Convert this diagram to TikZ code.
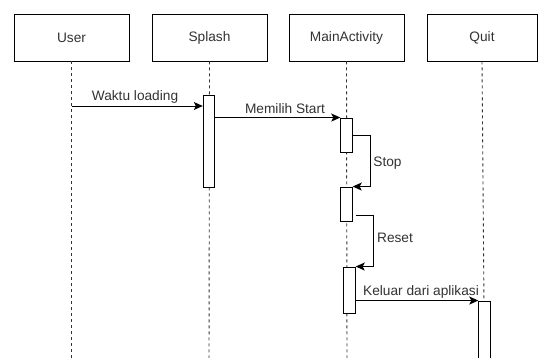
\documentclass[tikz,border=0pt]{standalone}
\usepackage{fontspec}
\setmainfont{Liberation Sans}
\usetikzlibrary{arrows.meta}
\definecolor{txt}{HTML}{333333}
\tikzset{
  head/.style={draw=black, line width=0.9pt, fill=white, minimum width=115pt, minimum height=47pt, inner sep=0pt, text=txt, font=\fontsize{13.7}{16}\selectfont},
  act/.style={draw=black, line width=0.9pt, fill=white, minimum width=11.5pt, inner sep=0pt},
  lifeline/.style={draw=black!80, line width=0.9pt, dash pattern=on 3pt off 3pt},
  msg/.style={draw=black, line width=0.9pt, -{Stealth[length=9pt,width=8pt,inset=2pt]}},
  lbl/.style={text=txt, inner sep=0pt, font=\fontsize{13.7}{16}\selectfont},
}
\begin{document}
\begin{tikzpicture}[x=1pt,y=-1pt]
\useasboundingbox (0,0) rectangle (541,358);
\clip (0,0) rectangle (541,358);
\fill[white] (0,0) rectangle (541,358);
% heads
\node[head] (user) at (71.5,37.5) {User};
\node[head] (splash) at (209.5,37.5) {Splash};
\node[head] (main) at (346.5,37.5) {MainActivity};
\node[head, minimum width=110pt] (quit) at (482,37.5) {Quit};
% lifeline ends
\coordinate (ue) at (71.5,365);
\coordinate (se) at (209,365);
\coordinate (me) at (347,365);
\coordinate (qe) at (484.5,365);
\draw[lifeline] (user.south) -- (ue);
\draw[lifeline] (splash.south) -- (se);
\draw[lifeline] (main.south) -- (me);
\draw[lifeline] (quit.south) -- (qe);
% activations
\node[act, minimum height=92pt] (s1) at (209,141) {};
\node[act, minimum height=34pt] (m1) at (346.5,135) {};
\node[act, minimum height=34pt] (m2) at (346.5,204) {};
\node[act, minimum height=46pt] (m3) at (349.5,290) {};
\node[act, minimum height=70pt] (q1) at (484.5,336) {};
% messages
\draw[msg] (user.south |- 0,106) -- (s1.west |- 0,106);
\draw[msg] (s1.east |- m1.north) -- (m1.north west);
\draw[msg] (m1.east |- 0,135) -- (370,135) |- (m2.north east);
\draw[msg] ([xshift=3pt]m2.east |- 0,215) -- (373,215) |- (m3.north east);
\draw[msg] (m3.east |- q1.north) -- (q1.north west);
% labels
\node[lbl] (l1) at (135,97) {Waktu loading};
\node[lbl] (l2) at (285,109) {Memilih Start};
\node[lbl] (l3) at (387.5,163) {Stop};
\node[lbl] (l4) at (395,238) {Reset};
\node[lbl] (l5) at (421,292) {Keluar dari aplikasi};
\end{tikzpicture}
\end{document}
